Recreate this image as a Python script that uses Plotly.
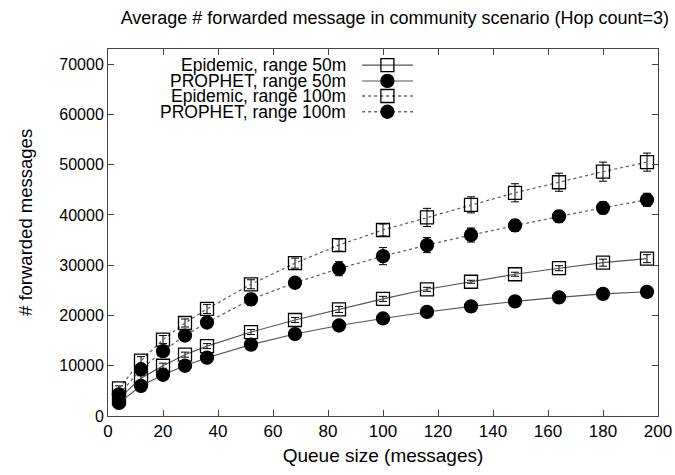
import plotly.graph_objects as go

# Queue sizes (messages) on the x axis
queue_size = [4, 12, 20, 28, 36, 52, 68, 84, 100, 116, 132, 148, 164, 180, 196]

# Average number of forwarded messages per scenario
epidemic_50 = [3500, 7500, 10000, 12200, 13900, 16700, 19100, 21200, 23300, 25200, 26700, 28200, 29400, 30500, 31300]
prophet_50 = [2600, 6000, 8200, 10000, 11600, 14200, 16300, 18000, 19400, 20700, 21800, 22800, 23600, 24300, 24700]
epidemic_100 = [5500, 11000, 15200, 18500, 21300, 26200, 30400, 34000, 37000, 39500, 42000, 44400, 46500, 48600, 50500]
prophet_100 = [4300, 9300, 12900, 16000, 18600, 23200, 26500, 29300, 31800, 34000, 36000, 37900, 39700, 41400, 43000]

# Standard deviations (error bars)
epidemic_50_err = [500, 500, 500, 500, 500, 500, 500, 600, 500, 400, 300, 400, 500, 700, 800]
prophet_50_err = [300, 300, 300, 300, 300, 300, 300, 300, 300, 300, 300, 300, 300, 300, 300]
epidemic_100_err = [500, 800, 800, 800, 900, 900, 1000, 1200, 1200, 1800, 1600, 1800, 1800, 1900, 1800]
prophet_100_err = [600, 800, 800, 900, 1000, 1200, 1000, 1400, 1700, 1500, 1400, 1200, 1200, 1200, 1300]

series_names = ["Epidemic, range 50m", "PROPHET, range 50m",
                "Epidemic, range 100m", "PROPHET, range 100m"]

x_ticks = list(range(0, 201, 20))
y_ticks = list(range(0, 70001, 10000))
y_tick_labels = [str(v) for v in y_ticks]

title_text = "Average # forwarded message in community scenario (Hop count=3)"
x_title = "Queue size (messages)"
y_title = "# forwarded messages"

FONT = "Liberation Sans, Arial, sans-serif"

styles = [
    dict(symbol="square-open", dash="solid", lcolor="#555555", lwidth=1.1),
    dict(symbol="circle", dash="solid", lcolor="#555555", lwidth=1.1),
    dict(symbol="square-open", dash="dot", lcolor="#666666", lwidth=1.3),
    dict(symbol="circle", dash="dot", lcolor="#666666", lwidth=1.3),
]
values = [epidemic_50, prophet_50, epidemic_100, prophet_100]
errors = [epidemic_50_err, prophet_50_err, epidemic_100_err, prophet_100_err]

fig = go.Figure()

for name, ys, errs, st in zip(series_names, values, errors, styles):
    fig.add_trace(go.Scatter(
        x=queue_size, y=ys, name=name, mode="lines+markers",
        line=dict(color=st["lcolor"], width=st["lwidth"], dash=st["dash"]),
        marker=dict(symbol=st["symbol"], size=13, color="black",
                    line=dict(color="black", width=1.3)),
        error_y=dict(type="data", array=errs, visible=True,
                     color="black", thickness=1, width=4),
        showlegend=False,
    ))

# Key in the upper-left corner: right-aligned labels, sample line to the right
key_rows = [0.956, 0.913, 0.872, 0.829]
key_x0, key_x1, key_mid, key_text_x = 0.462, 0.5545, 0.508, 0.436
for name, st, ky in zip(series_names, styles, key_rows):
    fig.add_trace(go.Scatter(
        x=[key_x0, key_x1], y=[ky, ky], mode="lines",
        line=dict(color=st["lcolor"], width=st["lwidth"], dash=st["dash"]),
        xaxis="x2", yaxis="y2", showlegend=False, hoverinfo="skip",
    ))
    fig.add_trace(go.Scatter(
        x=[key_mid], y=[ky], mode="markers",
        marker=dict(symbol=st["symbol"], size=13, color="black",
                    line=dict(color="black", width=1.3)),
        xaxis="x2", yaxis="y2", showlegend=False, hoverinfo="skip",
    ))
    fig.add_annotation(
        x=key_text_x, y=ky, xref="paper", yref="paper", text=name,
        showarrow=False, xanchor="right", yanchor="middle",
        font=dict(family=FONT, size=17.5, color="black"),
    )

# Vertical axis title
fig.add_annotation(
    x=-0.149, y=0.526, xref="paper", yref="paper", text=y_title,
    textangle=-90, showarrow=False, xanchor="center", yanchor="middle",
    font=dict(family=FONT, size=18.5, color="black"),
)

axis_common = dict(
    showline=True, linecolor="#444444", linewidth=1, mirror="ticks",
    ticks="inside", ticklen=6, tickcolor="#444444", tickwidth=1,
    showgrid=False, zeroline=False, ticklabeloverflow="allow",
    automargin=False,
)

fig.update_layout(
    width=675, height=475,
    showlegend=False,
    margin=dict(l=108, r=17, t=49, b=59, autoexpand=False),
    plot_bgcolor="white", paper_bgcolor="white",
    title=dict(text=title_text, x=0.585, xanchor="center", y=0.962, yanchor="middle",
               font=dict(family=FONT, size=18, color="black")),
    xaxis=dict(range=[0, 200], tickvals=x_ticks,
               tickfont=dict(family=FONT, size=17, color="black"),
               title=dict(text=x_title, standoff=8,
                          font=dict(family=FONT, size=19, color="black")),
               **axis_common),
    yaxis=dict(range=[0, 73000], tickvals=y_ticks, ticktext=y_tick_labels,
               tickfont=dict(family=FONT, size=16, color="black"),
               **axis_common),
    xaxis2=dict(overlaying="x", range=[0, 1], visible=False, anchor="y2"),
    yaxis2=dict(overlaying="y", range=[0, 1], visible=False, anchor="x2"),
)

fig.write_html("out.html")
